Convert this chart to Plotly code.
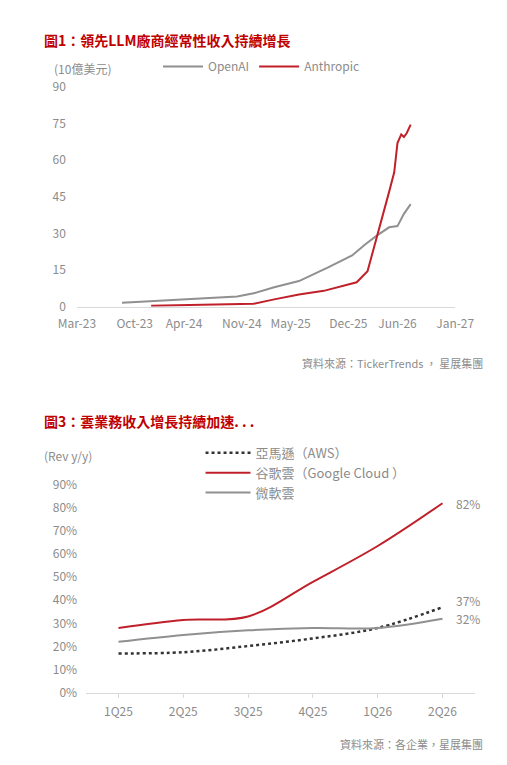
import plotly.graph_objects as go

oa_dates = ["2023-08-15","2024-01-01","2024-06-01","2024-10-15","2024-12-15","2025-03-01","2025-06-01","2025-07-10","2025-09-15","2025-12-15","2026-02-01","2026-03-15","2026-05-01","2026-06-01","2026-06-25","2026-07-20"]
oa_vals = [1.6,2.5,3.4,4.2,5.5,8.0,10.5,12.5,16.0,21.0,25.5,29.0,32.5,33.0,38.0,42.0]
an_dates = ["2023-12-01","2024-06-01","2024-12-15","2025-03-01","2025-06-01","2025-09-01","2026-01-01","2026-02-10","2026-03-01","2026-03-20","2026-05-01","2026-05-20","2026-06-01","2026-06-15","2026-06-25","2026-07-05","2026-07-20"]
an_vals = [0.4,0.8,1.2,3.0,5.0,6.5,10.0,14.5,22.0,30.0,47.0,55.0,67.0,70.5,69.5,71.0,74.5]

quarters = ["1Q25","2Q25","3Q25","4Q25","1Q26","2Q26"]
aws = [17.0,17.5,20.2,23.5,28.0,37.0]
gcp = [28.0,31.5,33.0,48.0,63.5,82.0]
msft = [22.0,25.0,27.0,28.0,28.0,32.0]
pct_ticks = list(range(0, 91, 10))

FONT = "Noto Sans CJK TC, Noto Sans, sans-serif"
GRAY = "#8c8c8c"; RED = "#C0202A"; LGRAY = "#909090"

fig = go.Figure()
fig.add_trace(go.Scatter(x=oa_dates, y=oa_vals, name="OpenAI", mode="lines",
    line=dict(color=LGRAY, width=2), xaxis="x", yaxis="y", legend="legend"))
fig.add_trace(go.Scatter(x=an_dates, y=an_vals, name="Anthropic", mode="lines",
    line=dict(color=RED, width=2), xaxis="x", yaxis="y", legend="legend"))

fig.add_trace(go.Scatter(x=list(range(6)), y=aws, name="亞馬遜（AWS）", mode="lines",
    line=dict(color="#333333", width=2.5, dash="dot", shape="spline"), xaxis="x2", yaxis="y2", legend="legend2"))
fig.add_trace(go.Scatter(x=list(range(6)), y=gcp, name="谷歌雲（Google Cloud ）", mode="lines",
    line=dict(color=RED, width=2, shape="spline"), xaxis="x2", yaxis="y2", legend="legend2"))
fig.add_trace(go.Scatter(x=list(range(6)), y=msft, name="微軟雲", mode="lines",
    line=dict(color=LGRAY, width=2, shape="spline"), xaxis="x2", yaxis="y2", legend="legend2"))

tf = dict(family=FONT, size=12, color=GRAY)
fig.update_layout(
    width=507, height=765, margin=dict(l=0, r=0, t=0, b=0),
    paper_bgcolor="white", plot_bgcolor="white", font=dict(family=FONT, color=GRAY),
    xaxis=dict(type="date", domain=[0.1065, 0.913], anchor="y",
        range=["2023-03-01","2027-01-01"],
        tickvals=["2023-03-01","2023-10-01","2024-04-01","2024-11-01","2025-05-01","2025-12-01","2026-06-01","2027-01-01"],
        ticktext=["Mar-23","Oct-23","Apr-24","Nov-24","May-25","Dec-25","Jun-26","Jan-27"],
        showgrid=False, showline=True, linecolor="#d9d9d9", ticks="", tickfont=tf, ticklabelstandoff=6),
    yaxis=dict(domain=[0.614, 0.908], anchor="x", range=[0, 90], tickvals=[0,15,30,45,60,75,90],
        showgrid=False, zeroline=False, tickfont=tf, ticklabelstandoff=10),
    xaxis2=dict(domain=[0.126, 0.955], anchor="y2", range=[-0.5, 5.5],
        tickvals=list(range(6)), ticktext=quarters, showgrid=False, showline=True,
        linecolor="#d9d9d9", ticks="outside", ticklen=4, tickcolor="#d9d9d9", tickfont=tf, ticklabelstandoff=4),
    yaxis2=dict(domain=[0.098, 0.376], anchor="x2", range=[0, 90], tickvals=pct_ticks,
        ticktext=[f"{v}%" for v in pct_ticks], showgrid=False, zeroline=False, tickfont=tf, ticklabelstandoff=8),
    legend=dict(orientation="h", x=0.5, xanchor="center", y=0.935, yanchor="middle",
        font=dict(family=FONT, size=12, color=GRAY), bgcolor="rgba(0,0,0,0)", itemwidth=40),
    legend2=dict(orientation="v", x=0.37, xanchor="left", y=0.392, yanchor="middle",
        font=dict(family=FONT, size=13, color=GRAY), bgcolor="rgba(0,0,0,0)", tracegroupgap=0, itemwidth=45),
    showlegend=True,
)

ann = [
    dict(text="<b>圖1：領先LLM廠商經常性收入持續增長</b>", x=16, y=23, font=dict(size=14, color="#C00000")),
    dict(text="(10億美元)", x=27, y=52, font=dict(size=12, color=GRAY)),
    dict(text="資料來源：TickerTrends ， 星展集團", x=495, y=353, xanchor="right", font=dict(size=11, color=GRAY)),
    dict(text="<b>圖3：雲業務收入增長持續加速. . .</b>", x=16, y=412, font=dict(size=14, color="#C00000")),
    dict(text="(Rev y/y)", x=16, y=447, font=dict(size=12, color=GRAY)),
    dict(text="資料來源：各企業，星展集團", x=495, y=743, xanchor="right", font=dict(size=11, color=GRAY)),
]
for a in ann:
    fig.add_annotation(text=a["text"], x=a["x"]/507, y=1-a["y"]/765, xref="paper", yref="paper",
        xanchor=a.get("xanchor","left"), yanchor="middle", showarrow=False,
        font=dict(family=FONT, **a["font"]))

for label, yv in [("82%", gcp[-1]), ("37%", aws[-1] + 3), ("32%", msft[-1])]:
    fig.add_annotation(text=label, x=5, y=yv, xref="x2", yref="y2", xshift=12,
        xanchor="left", showarrow=False, font=dict(family=FONT, size=12, color=GRAY))

fig.write_html("out.html")
